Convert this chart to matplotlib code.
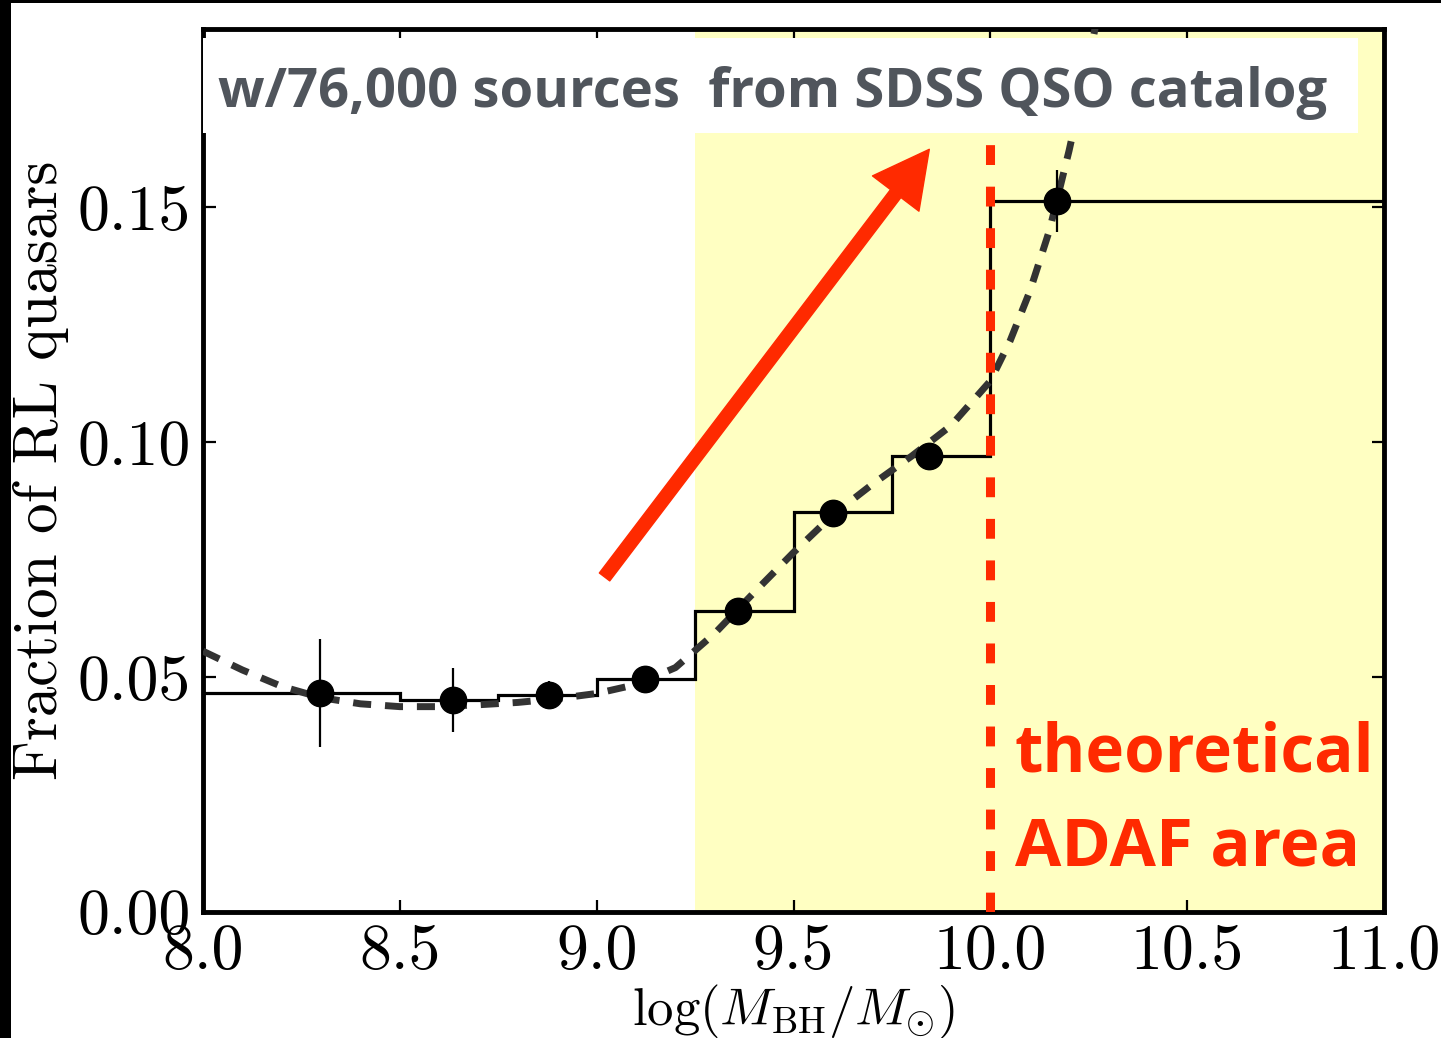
import numpy as np
import matplotlib
matplotlib.use("Agg")
import matplotlib.pyplot as plt
from matplotlib.patches import Rectangle, FancyArrowPatch

plt.rcParams['font.family'] = 'serif'
plt.rcParams['font.serif'] = ['cmr10']
plt.rcParams['mathtext.fontset'] = 'cm'
plt.rcParams['axes.formatter.use_mathtext'] = True

# binned fraction of radio-loud quasars (step histogram)
bin_edges = [8.0, 8.5, 8.75, 9.0, 9.25, 9.5, 9.75, 10.0, 11.0]
bin_frac = [0.0466, 0.0451, 0.0462, 0.0496, 0.0640, 0.0851, 0.0970, 0.1513]

# points with error bars
pt_x = [8.297, 8.635, 8.878, 9.122, 9.358, 9.600, 9.845, 10.170]
pt_y = [0.0466, 0.0451, 0.0462, 0.0496, 0.0640, 0.0849, 0.0970, 0.1513]
pt_err = [0.0115, 0.0069, 0.0030, 0.0025, 0.0025, 0.0025, 0.0025, 0.0066]

# dashed fit curve
curve_x = [8.0, 8.1, 8.2, 8.3, 8.4, 8.5, 8.6, 8.7, 8.8, 8.9, 9.0, 9.1, 9.2,
           9.3, 9.4, 9.5, 9.6, 9.7, 9.8, 9.9, 10.0, 10.05, 10.1, 10.15, 10.2,
           10.25, 10.3]
curve_y = [0.0555, 0.0515, 0.0480, 0.0456, 0.0443, 0.0437, 0.0437, 0.0441,
           0.0446, 0.0454, 0.0465, 0.0484, 0.0520, 0.0593, 0.0680, 0.0765,
           0.0845, 0.0910, 0.0970, 0.1035, 0.1130, 0.1215, 0.1320, 0.1450,
           0.1620, 0.1810, 0.2030]

adaf_start = 9.25
adaf_edge = 10.0
arrow_tail = (9.02, 0.0713)
arrow_tip = (9.845, 0.1623)

red = '#ff2a00'

W, H = 1441, 1038
fig = plt.figure(figsize=(W / 100, H / 100), dpi=100)
fig.patch.set_facecolor('white')
ax = fig.add_axes([203 / W, (H - 912) / H, (1384 - 203) / W, (912 - 29) / H])

box_bottom = (912 - 133) / 883
box_top = (912 - 38) / 883

ax.axvspan(adaf_start, 11.0, color='#ffffc2', lw=0, zorder=0)
ax.stairs(bin_frac, bin_edges, color='black', lw=2.3, zorder=3)
ax.plot(curve_x, curve_y, color='#333333', lw=5, dashes=(2.6, 2.0), zorder=4)
ax.errorbar(pt_x, pt_y, yerr=pt_err, fmt='o', color='black', ms=19,
            elinewidth=1.6, capsize=0, zorder=5)
ax.axvline(adaf_edge, ymax=box_bottom, color=red, lw=6.5, dashes=(2.2, 2.4),
           zorder=6)

arrow = FancyArrowPatch(arrow_tail, arrow_tip,
                        arrowstyle='simple,tail_width=9.4,head_width=42,head_length=40',
                        mutation_scale=1, color=red, shrinkA=0, shrinkB=0, zorder=7)
ax.add_patch(arrow)

# white box holding the caption
ax.add_patch(Rectangle((0.0, box_bottom), (1358 - 203) / 1181, box_top - box_bottom,
                       transform=ax.transAxes, facecolor='white', edgecolor='none',
                       zorder=8))
cap = ax.text((218 - 203) / 1181, (912 - 107) / 883,
              'w/76,000 sources  from SDSS QSO catalog',
              transform=ax.transAxes, ha='left', va='baseline',
              family='Open Sans', fontweight='bold', color='#50555c',
              fontsize=38, zorder=9)
t1 = ax.text((1015 - 203) / 1181, (912 - 772) / 883, 'theoretical',
             transform=ax.transAxes, ha='left', va='baseline',
             family='Open Sans', fontweight='bold', color=red, fontsize=44, zorder=9)
t2 = ax.text((1015 - 203) / 1181, (912 - 865) / 883, 'ADAF area',
             transform=ax.transAxes, ha='left', va='baseline',
             family='Open Sans', fontweight='bold', color=red, fontsize=44, zorder=9)

ax.set_xlim(8.0, 11.0)
ax.set_ylim(0, 0.1879)
ax.set_xticks([8.0, 8.5, 9.0, 9.5, 10.0, 10.5, 11.0])
ax.set_yticks([0.0, 0.05, 0.10, 0.15])
ax.set_xticklabels(['8.0', '8.5', '9.0', '9.5', '10.0', '10.5', '11.0'])
ax.set_yticklabels(['0.00', '0.05', '0.10', '0.15'])
ax.tick_params(direction='in', length=9, width=1.6, top=True, right=True,
               labelsize=46, pad=9)
for s in ax.spines.values():
    s.set_linewidth(3.5)
ax.set_ylabel('Fraction of RL quasars', fontsize=44, labelpad=6)
ax.set_xlabel(r'$\log(M_{\rm BH}/M_{\odot})$', fontsize=38, labelpad=0)

# fit caption widths to the reference
fig.canvas.draw()
r = fig.canvas.get_renderer()
for t, target in [(cap, 1109), (t1, 360), (t2, 345)]:
    w = t.get_window_extent(r).width
    t.set_fontsize(t.get_fontsize() * target / w)

# black frame edges of the slide
fig.patches.append(Rectangle((0, 0), 11 / W, 1, transform=fig.transFigure,
                             facecolor='black', edgecolor='none'))
fig.patches.append(Rectangle((0, 1 - 3 / H), 1, 3 / H, transform=fig.transFigure,
                             facecolor='black', edgecolor='none'))

fig.savefig('out.png', dpi=100)
